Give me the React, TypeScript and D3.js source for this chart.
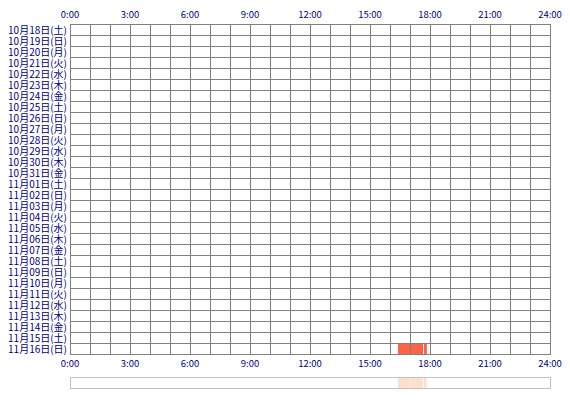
import React from "react";
import * as d3 from "d3";

const days: string[] = [
  "10月18日(土)", "10月19日(日)", "10月20日(月)", "10月21日(火)", "10月22日(水)",
  "10月23日(木)", "10月24日(金)", "10月25日(土)", "10月26日(日)", "10月27日(月)",
  "10月28日(火)", "10月29日(水)", "10月30日(木)", "10月31日(金)", "11月01日(土)",
  "11月02日(日)", "11月03日(月)", "11月04日(火)", "11月05日(水)", "11月06日(木)",
  "11月07日(金)", "11月08日(土)", "11月09日(日)", "11月10日(月)", "11月11日(火)",
  "11月12日(水)", "11月13日(木)", "11月14日(金)", "11月15日(土)", "11月16日(日)",
];

const hourTicks: number[] = [0, 3, 6, 9, 12, 15, 18, 21, 24];
const tickLabels: string[] = ["0:00", "3:00", "6:00", "9:00", "12:00", "15:00", "18:00", "21:00", "24:00"];
const gridHours: number[] = d3.range(0, 25);

// activity segments: day label, start hour, end hour
const segDays: string[] = ["11月16日(日)", "11月16日(日)", "11月16日(日)"];
const segStart: number[] = [16.4, 17.02, 17.7];
const segEnd: number[] = [17.0, 17.65, 17.83];

const W = 570;
const H = 400;
const left = 70;
const right = 550;
const top = 24;
const bottom = 354;

export default function App() {
  const x = d3.scaleLinear().domain([0, 24]).range([left, right]);
  const y = d3.scaleBand<string>().domain(days).range([top, bottom]);
  const font = "'Noto Sans CJK JP', 'Noto Sans', sans-serif";
  const navy = "#000080";
  const ovTop = 377;
  const ovH = 11;
  return (
    <svg width={W} height={H} style={{ position: "absolute", left: 0, top: 0 }} fontFamily={font}>
      <rect x={0} y={0} width={W} height={H} fill="#ffffff" />
      {/* segments */}
      {segDays.map((d, i) => (
        <rect key={"s" + i} x={x(segStart[i])} y={y(d)!} width={x(segEnd[i]) - x(segStart[i])} height={y.bandwidth()} fill="#ff6347" />
      ))}
      {/* grid */}
      {gridHours.map((h) => (
        <line key={"v" + h} x1={Math.round(x(h)) + 0.5} x2={Math.round(x(h)) + 0.5} y1={top} y2={bottom + 1} stroke="#808080" strokeWidth={1} />
      ))}
      {days.map((d) => (
        <line key={"h" + d} x1={left} x2={right + 1} y1={Math.round(y(d)!) + 0.5} y2={Math.round(y(d)!) + 0.5} stroke="#808080" strokeWidth={1} />
      ))}
      <line x1={left} x2={right + 1} y1={bottom + 0.5} y2={bottom + 0.5} stroke="#808080" strokeWidth={1} />
      {/* overdraw segments lighter on top of grid where covered */}
      {segDays.map((d, i) => (
        <rect key={"so" + i} x={x(segStart[i]) + 1} y={y(d)! + 1} width={Math.max(0, x(segEnd[i]) - x(segStart[i]) - 1)} height={y.bandwidth() - 1} fill="#ff6347" />
      ))}
      {/* row labels */}
      {days.map((d) => (
        <text key={"t" + d} x={left - 3} y={y(d)! + y.bandwidth() / 2 + 4} textAnchor="end" fontSize={10} fill={navy}>
          {d}
        </text>
      ))}
      {/* top & bottom ticks */}
      {hourTicks.map((h, i) => (
        <g key={"tk" + h}>
          <text x={x(h)} y={18} textAnchor="middle" fontSize={9.5} fill={navy}>{tickLabels[i]}</text>
          <text x={x(h)} y={367} textAnchor="middle" fontSize={9.5} fill={navy}>{tickLabels[i]}</text>
        </g>
      ))}
      {/* overview */}
      {segStart.map((s, i) => (
        <rect key={"ov" + i} x={x(s)} y={ovTop} width={x(segEnd[i]) - x(s)} height={ovH} fill="#ffe0cc" />
      ))}
      <rect x={left + 0.5} y={ovTop + 0.5} width={right - left} height={ovH} fill="none" stroke="#c0c0c0" strokeWidth={1} />
    </svg>
  );
}
